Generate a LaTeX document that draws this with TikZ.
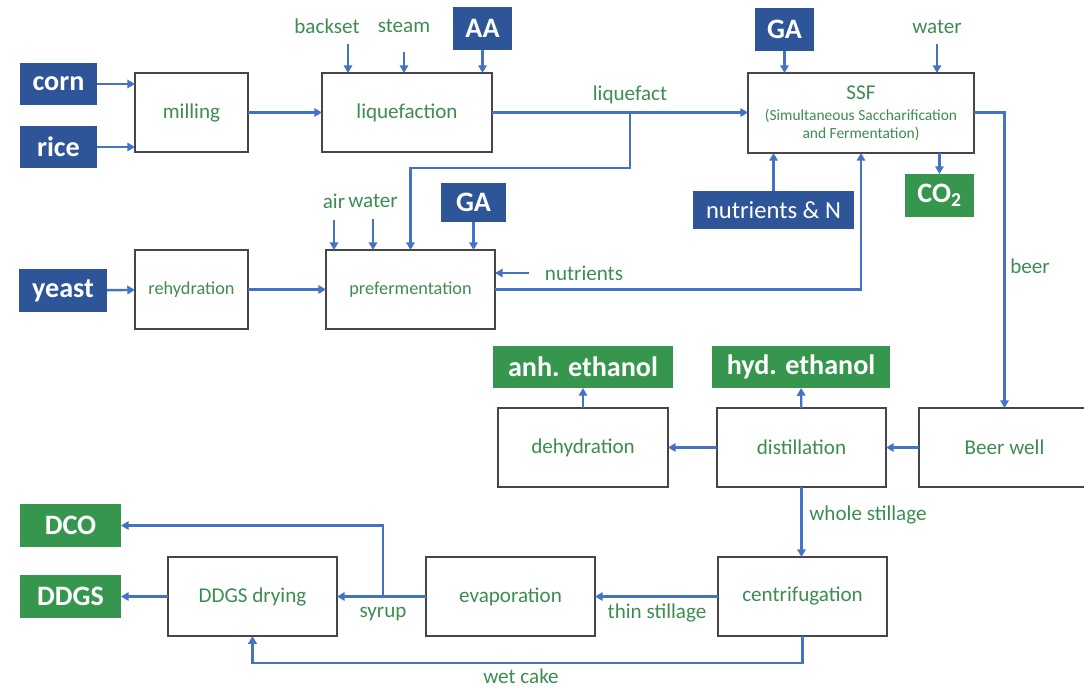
\documentclass[tikz,border=0pt]{standalone}
\usepackage{fontspec}
\setmainfont{Carlito}
\usetikzlibrary{positioning,arrows.meta}
\definecolor{feedcol}{RGB}{46,85,151}
\definecolor{prodcol}{RGB}{55,150,78}
\definecolor{flowcol}{RGB}{68,114,196}
\definecolor{txtcol}{RGB}{62,140,82}
\definecolor{edgecol}{RGB}{70,70,70}
\newcommand{\subtxt}{\fontsize{11}{12.5}\selectfont}

\begin{document}
\begin{tikzpicture}[
  x=0.025cm, y=-0.025cm,
  every node/.style={font=\fontsize{15}{18}\selectfont, text=txtcol},
  sz/.style 2 args={minimum width=#1*0.025cm, minimum height=#2*0.025cm},
  unit/.style={draw=edgecol, line width=0.9pt, fill=white, inner sep=0pt, outer sep=0pt, align=center},
  small/.style={font=\fontsize{13}{16}\selectfont},
  feed/.style={fill=feedcol, text=white, inner sep=0pt, outer sep=0pt, font=\fontsize{20}{24}\selectfont\bfseries},
  prod/.style={feed, fill=prodcol},
  lbl/.style={inner sep=1pt},
  arr/.style={-{Triangle[length=5.5pt,width=6pt]}, line width=1.7pt, flowcol}
]
\clip (0,0) rectangle (1084,687);

% =================== feedstock and milling ===================
\node[feed, sz={77}{42}] (corn) at (58.5,84) {corn};
\node[feed, sz={77}{42}] (rice) at (58.5,147) {rice};
\node[unit, sz={113}{79}] (mill) at (191.5,112.5) {milling};
\node[unit, sz={170}{79}] (liq) at (407,112.5) {liquefaction};
\node[lbl] (backset) at (327,26) {backset};
\node[lbl] (steam) at (404,26) {steam};
\node[feed, sz={59}{43}] (aa) at (482.5,28.5) {AA};

% =================== yeast line ===================
\node[feed, sz={88}{43}] (yeast) at (63,290.5) {yeast};
\node[unit, small, sz={113}{79}] (rehyd) at (191.5,289.5) {rehydration};
\node[unit, small, sz={169}{79}] (pref) at (410.5,289.5) {prefermentation};
\node[lbl] (air) at (334,201) {air};
\node[lbl] (water) at (373,201) {water};
\node[feed, sz={65}{39}] (ga2) at (473.5,202.5) {GA};
\node[lbl] (nutl) at (584,273) {nutrients};

% =================== SSF ===================
\node[unit, sz={226}{80}, font=\fontsize{15}{12.5}\selectfont] (ssf) at (861,113)
  {SSF\\[3pt]\subtxt (Simultaneous Saccharification\\\subtxt and Fermentation)};
\node[feed, sz={59}{43}] (ga1) at (784.5,29.5) {GA};
\node[lbl] (ssfwater) at (937,27) {water};
\node[feed, sz={161}{38}, font=\fontsize{17.5}{20}\selectfont] (nutn) at (773.5,210) {nutrients \& N};
\node[prod, sz={69}{43}] (co2) at (939.5,195.5) {CO\textsubscript{2}};
\node[lbl] at (630,95) {liquefact};
\node[lbl] at (1030,266) {beer};

% =================== distillation ===================
\node[unit, sz={171}{79}] (beer) at (1004.5,447.5) {Beer well};
\node[unit, sz={169}{79}] (dist) at (801.5,447.5) {distillation};
\node[unit, sz={170}{79}] (dehyd) at (583,447.5) {dehydration};
\node[prod, sz={180}{42}] (anh) at (583,367) {anh. ethanol};
\node[prod, sz={178}{42}] (hyd) at (801,367) {hyd. ethanol};
\node[lbl] at (868,515) {whole stillage};

% =================== stillage handling ===================
\node[unit, sz={169}{79}] (cent) at (802.5,596.5) {centrifugation};
\node[unit, sz={169}{79}] (evap) at (510.5,596.5) {evaporation};
\node[unit, sz={169}{79}] (dry) at (252.5,596.5) {DDGS drying};
\node[prod, sz={101}{43}] (dco) at (70.5,525.5) {DCO};
\node[prod, sz={101}{43}] (ddgs) at (70.5,596.5) {DDGS};
\node[lbl] at (657,613) {thin stillage};
\node[lbl] at (383,614) {syrup};
\node[lbl] at (521,676) {wet cake};

\coordinate (liqtap) at (630,112.5);
\coordinate (syrtap) at (383,596.5);

% =================== arrows ===================
\draw[arr] (corn.east) -- (corn.east -| mill.west);
\draw[arr] (rice.east) -- (rice.east -| mill.west);
\draw[arr] (mill) -- (liq);
\draw[arr] ([shift={(26,-29)}]liq.north west) -- ++(0,29);
\draw[arr] ([shift={(0,18)}]steam.south) -- (steam.south |- liq.north);
\draw[arr] (aa) -- (aa |- liq.north);
\draw[arr] (liq.east) -- (liq.east -| ssf.west);
\draw[arr] (liqtap) -- ++(0,55.5) -| (pref.north);
\draw[arr] (yeast) -- (rehyd);
\draw[arr] (rehyd) -- (pref);
\draw[arr] ([shift={(0,10)}]air.south) -- (air.south |- pref.north);
\draw[arr] ([shift={(0,10)}]water.south) -- (water.south |- pref.north);
\draw[arr] (ga2) -- (ga2 |- pref.north);
\draw[arr] ([shift={(-14,0)}]nutl.west) -- (nutl.west -| pref.east);
\draw[arr] (pref.east) -| (ssf.south);
\draw[arr] (ga1) -- (ga1 |- ssf.north);
\draw[arr] ([shift={(0,9)}]ssfwater.south) -- (ssfwater.south |- ssf.north);
\draw[arr] (nutn) -- (nutn |- ssf.south);
\draw[arr] (co2 |- ssf.south) -- (co2);
\draw[arr] (liq.east -| ssf.east) -| (beer.north);
\draw[arr] (beer) -- (dist);
\draw[arr] (dist) -- (dehyd);
\draw[arr] (dehyd) -- (anh);
\draw[arr] (dist) -- (hyd);
\draw[arr] (dist.south) -- (dist.south |- cent.north);
\draw[arr] (cent) -- (evap);
\draw[arr] (evap) -- (dry);
\draw[arr] (syrtap) |- (dco);
\draw[arr] (dry) -- (ddgs);
\draw[arr] (cent.south) -- ++(0,27) -| (dry.south);

\end{tikzpicture}
\end{document}
